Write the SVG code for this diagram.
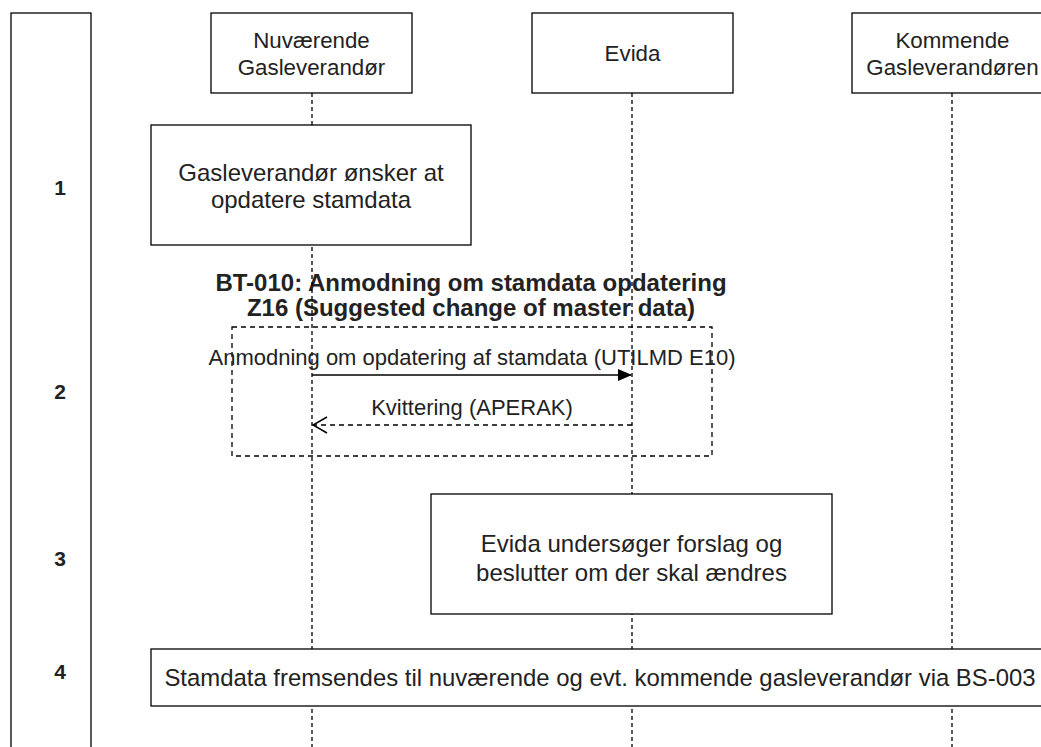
<svg xmlns="http://www.w3.org/2000/svg" width="1041" height="747" viewBox="0 0 1041 747">
<style>
.box{fill:#fff;stroke:#000;stroke-width:1.3}
.life{stroke:#000;stroke-width:1.3;stroke-dasharray:4 3;fill:none}
.frame{fill:none;stroke:#000;stroke-width:1.3;stroke-dasharray:5 4}
.t{font-family:"Liberation Sans",Arial,sans-serif;font-size:22.3px;fill:#222;text-anchor:middle;dominant-baseline:central}
.tb{font-family:"Liberation Sans",Arial,sans-serif;font-size:24px;font-weight:bold;fill:#222;text-anchor:middle;dominant-baseline:central}
.big{font-size:24px}
.lbl{font-size:22px}
.wide{font-size:23.9px}
.num{font-family:"Liberation Sans",Arial,sans-serif;font-size:21px;font-weight:bold;fill:#222;text-anchor:middle;dominant-baseline:central}
.msg{stroke:#000;stroke-width:1.5;fill:none}
.msgd{stroke:#000;stroke-width:1.3;fill:none;stroke-dasharray:5 4}
</style>
<defs>
<marker id="filled" markerWidth="14" markerHeight="12" refX="13" refY="6" orient="auto" markerUnits="userSpaceOnUse">
<path d="M0,0 L14,6 L0,12 Z" fill="#000"/>
</marker>
<marker id="open" markerWidth="16" markerHeight="18" refX="15" refY="9" orient="auto" markerUnits="userSpaceOnUse">
<path d="M1,1 L15,9 L1,17" fill="none" stroke="#000" stroke-width="1.5"/>
</marker>
</defs>
<rect width="1041" height="747" fill="#fff"/>

<g id="phase-column">
<rect class="box" x="11" y="13" width="80" height="800"/>
<text class="num" x="60" y="187">1</text>
<text class="num" x="60" y="391">2</text>
<text class="num" x="60" y="558">3</text>
<text class="num" x="60" y="671">4</text>
</g>

<g id="title">
<text class="tb" x="471" y="282">BT-010: Anmodning om stamdata opdatering</text>
<text class="tb" x="471" y="307">Z16 (Suggested change of master data)</text>
</g>

<g id="lifelines">
<line class="life" x1="312" y1="93" x2="312" y2="747"/>
<line class="life" x1="632" y1="93" x2="632" y2="747"/>
<line class="life" x1="952" y1="93" x2="952" y2="747"/>
</g>

<g id="header-nuvaerende">
<rect class="box" x="211" y="13" width="201" height="80"/>
<text class="t" x="311.5" y="40">Nuværende</text>
<text class="t" x="311.5" y="67">Gasleverandør</text>
</g>
<g id="header-evida">
<rect class="box" x="532" y="13" width="201" height="80"/>
<text class="t" x="632.5" y="53">Evida</text>
</g>
<g id="header-kommende">
<rect class="box" x="852" y="13" width="201" height="80"/>
<text class="t" x="952.5" y="40">Kommende</text>
<text class="t" x="952.5" y="67">Gasleverandøren</text>
</g>

<g id="step1">
<rect class="box" x="151" y="125" width="320" height="120"/>
<text class="t big" x="311" y="172">Gasleverandør ønsker at</text>
<text class="t big" x="311" y="199">opdatere stamdata</text>
</g>

<g id="frame">
<rect class="frame" x="232" y="327" width="480" height="129"/>
</g>

<g id="connectors">
<line class="msg" x1="312" y1="375" x2="631" y2="375" marker-end="url(#filled)"/>
<line class="msgd" x1="632" y1="425" x2="313" y2="425" marker-end="url(#open)"/>
<text class="t lbl" x="472" y="357">Anmodning om opdatering af stamdata (UTILMD E10)</text>
<text class="t lbl" x="472" y="407">Kvittering (APERAK)</text>
</g>

<g id="step3">
<rect class="box" x="431" y="494" width="401" height="120"/>
<text class="t big" x="631.5" y="543">Evida undersøger forslag og</text>
<text class="t big" x="631.5" y="572">beslutter om der skal ændres</text>
</g>

<g id="step4">
<rect class="box" x="151" y="649" width="900" height="57"/>
<text class="t wide" x="600" y="677">Stamdata fremsendes til nuværende og evt. kommende gasleverandør via BS-003</text>
</g>
</svg>
